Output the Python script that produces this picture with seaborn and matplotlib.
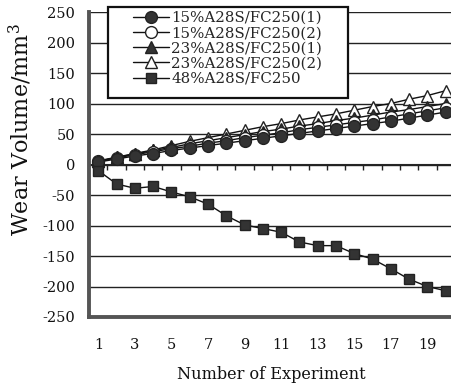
import numpy as np
import pandas as pd
import matplotlib
matplotlib.use("Agg")
import matplotlib.pyplot as plt
from matplotlib.patches import Rectangle
import seaborn as sns

experiments = list(range(1, 21))
s15_1 = [4, 9, 14, 18, 23, 27, 31, 35, 39, 43, 47, 51, 55, 59, 63, 67, 71, 76, 81, 86]
s15_2 = [5, 11, 16, 21, 26, 30, 35, 39, 44, 48, 52, 57, 61, 65, 69, 73, 78, 83, 88, 93]
s23_1 = [6, 12, 17, 23, 28, 34, 39, 44, 49, 54, 58, 63, 67, 72, 76, 81, 86, 90, 95, 100]
s23_2 = [5, 12, 18, 24, 31, 38, 44, 50, 56, 62, 67, 73, 78, 83, 89, 95, 100, 107, 113, 121]
s48 = [-10, -32, -39, -36, -45, -53, -65, -84, -99, -105, -111, -127, -133, -133,
       -146, -155, -171, -188, -200, -207]
labels = ["15%A28S/FC250(1)", "15%A28S/FC250(2)", "23%A28S/FC250(1)",
          "23%A28S/FC250(2)", "48%A28S/FC250"]
xtick_labels = ["1", "3", "5", "7", "9", "11", "13", "15", "17", "19"]
ytick_values = [250, 200, 150, 100, 50, 0, -50, -100, -150, -200, -250]

sns.set_style("white")
plt.rcParams['font.family'] = ['DejaVu Serif']
plt.rcParams['mathtext.fontset'] = 'dejavuserif'

W, H = 451, 389
fig = plt.figure(figsize=(W / 100, H / 100), dpi=100)
ax = fig.add_axes([89.2 / W, 72 / H, 365.6 / W, 305 / H])

series = [s15_1, s15_2, s23_1, s23_2, s48]
styles = [
    dict(marker="o", mfc="#333333", mec="#222222", ms=8.5),
    dict(marker="o", mfc="white", mec="#222222", ms=8.5),
    dict(marker="^", mfc="#333333", mec="#222222", ms=8.5),
    dict(marker="^", mfc="white", mec="#222222", ms=8.5),
    dict(marker="s", mfc="#333333", mec="#222222", ms=7.5),
]
order = [3, 2, 1, 0, 4]
handles = {}
for i in order:
    df = pd.DataFrame({"x": experiments, "y": series[i]})
    st = styles[i]
    sns.lineplot(data=df, x="x", y="y", ax=ax, color="#111111", linewidth=1.0,
                 marker=st["marker"], markersize=st["ms"],
                 markerfacecolor=st["mfc"], markeredgecolor=st["mec"],
                 markeredgewidth=1.0, label=labels[i], legend=False)
    handles[i] = ax.lines[-1]

ax.set_xlim(0.5, 20.5)
ax.set_ylim(-250, 250)
ax.set_yticks(ytick_values)
ax.set_yticklabels([str(v) if v >= 0 else "-" + str(-v) for v in ytick_values])
ax.set_xticks(list(range(1, 21, 2)))
ax.set_xticklabels(xtick_labels)
ax.tick_params(axis="both", length=0, labelsize=10.5, colors="#111111")
ax.tick_params(axis="x", pad=15)
ax.tick_params(axis="y", pad=10)
for v in ytick_values:
    ax.axhline(v, color="#222222", linewidth=1.0, zorder=0)

for side in ["top", "right"]:
    ax.spines[side].set_visible(False)
ax.spines["left"].set_linewidth(2.8)
ax.spines["left"].set_color("#555555")
ax.spines["bottom"].set_linewidth(2.8)
ax.spines["bottom"].set_color("#555555")

sec = ax.secondary_xaxis(0.5)
sec.set_xticks([k + 0.5 for k in range(1, 20)])
sec.set_xticklabels([])
sec.tick_params(direction="in", length=4, width=1.0, colors="#222222")
sec.spines["bottom"].set_visible(False)

ax.set_xlabel("Number of Experiment", fontsize=11.6, color="#111111")
ax.set_ylabel("Wear Volume/mm$^3$", fontsize=16, color="#111111")
ax.xaxis.set_label_coords((271 - 89.2) / 365.6, -(366 - 317) / 305)
ax.yaxis.set_label_coords(-(89.2 - 34) / 365.6, (317 - 130) / 305)

# legend box (drawn as a patch so the padding matches)
box = Rectangle((108 / W, 1 - 98 / H), (348 - 108) / W, (98 - 7) / H,
                transform=fig.transFigure, facecolor="white", edgecolor="#111111",
                linewidth=1.6, zorder=5, clip_on=False)
ax.add_patch(box)
leg = ax.legend([handles[i] for i in range(5)], labels, loc="upper left",
                bbox_to_anchor=(133 / W, 1 - 11 / H), bbox_transform=fig.transFigure,
                frameon=False, fontsize=10.8, borderpad=0,
                labelspacing=0.08, handlelength=2.4, handletextpad=0.15,
                borderaxespad=0)
leg.set_zorder(6)

fig.savefig("out.png", dpi=100)
